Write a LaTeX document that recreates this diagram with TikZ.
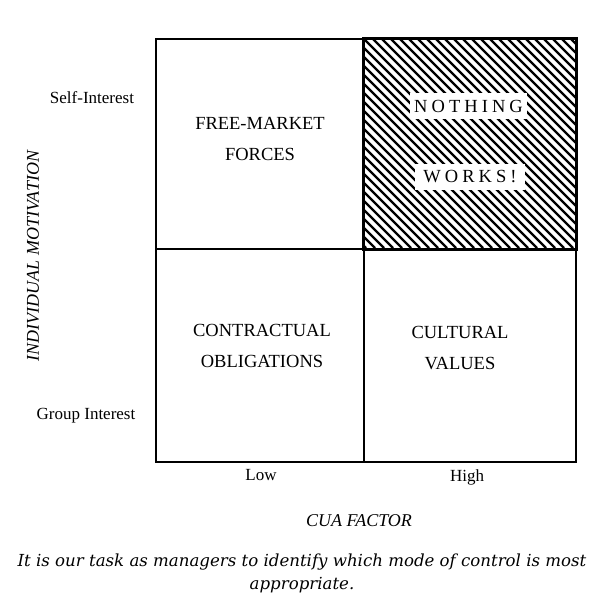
\documentclass[tikz,border=0pt]{standalone}
\usepackage{fontspec}
\setmainfont{Liberation Serif}
\newfontfamily\capfont{DejaVu Serif}
\newfontfamily\spacedfont[LetterSpace=22]{Liberation Serif}
\begin{document}
\begin{tikzpicture}[x=1pt,y=-1pt,
  cell/.style={draw,line width=1.8pt,minimum width=#1,inner sep=0pt,anchor=north west},
  quad/.style={font=\fontsize{18.5}{31}\selectfont,align=center,inner sep=0pt},
  axlab/.style={font=\fontsize{17}{20}\selectfont,inner sep=0pt},
  axtitle/.style={font=\fontsize{18}{20}\selectfont\itshape,inner sep=0pt},
  hatchlab/.style={fill=white,font=\fontsize{18.5}{20}\selectfont\spacedfont,inner sep=0pt,minimum height=26pt}]
\useasboundingbox (0,0) rectangle (607,605);
% cells
\node[cell=208pt,minimum height=210pt] (c11) at (155,38) {};
\node[cell=212pt,minimum height=210pt] (c12) at (363,38) {};
\node[cell=208pt,minimum height=213pt] (c21) at (155,248) {};
\node[cell=212pt,minimum height=213pt] (c22) at (363,248) {};
% hatching
\begin{scope}
  \clip (363,38) rectangle (575,248);
  \foreach \k in {-216,-207,...,216}
    \draw[line width=2.3pt] (363+\k,38) -- (573+\k,248);
\end{scope}
\draw[line width=1.8pt] (c12.north west) rectangle (c12.south east);
% quadrant texts
\node[quad] (fm) at (260,139) {FREE-MARKET\\FORCES};
\node[hatchlab,minimum width=117pt] (nothing) at (468.5,106) {NOTHING\hspace{-4pt}};
\node[hatchlab,minimum width=110pt] (works) at (470,176.5) {WORKS!\hspace{-4pt}};
\node[quad] (co) at (262,346) {CONTRACTUAL\\OBLIGATIONS};
\node[quad] (cv) at (460,348) {CULTURAL\\VALUES};
% axis labels
\node[axlab] (si) at (92,98) {Self-Interest};
\node[axlab] (gi) at (86,416) {Group Interest};
\node[axlab] (low) at (261,475) {Low};
\node[axlab] (high) at (467,477) {High};
\node[axtitle,rotate=90] (im) at (33,256) {INDIVIDUAL MOTIVATION};
\node[axtitle] (cua) at (359,521) {CUA FACTOR};
% caption
\node[font=\fontsize{16.6}{23}\selectfont\capfont\itshape,align=center,inner sep=0pt] (cap) at (302,573)
  {It is our task as managers to identify which mode of control is most\\appropriate.};
\end{tikzpicture}
\end{document}
